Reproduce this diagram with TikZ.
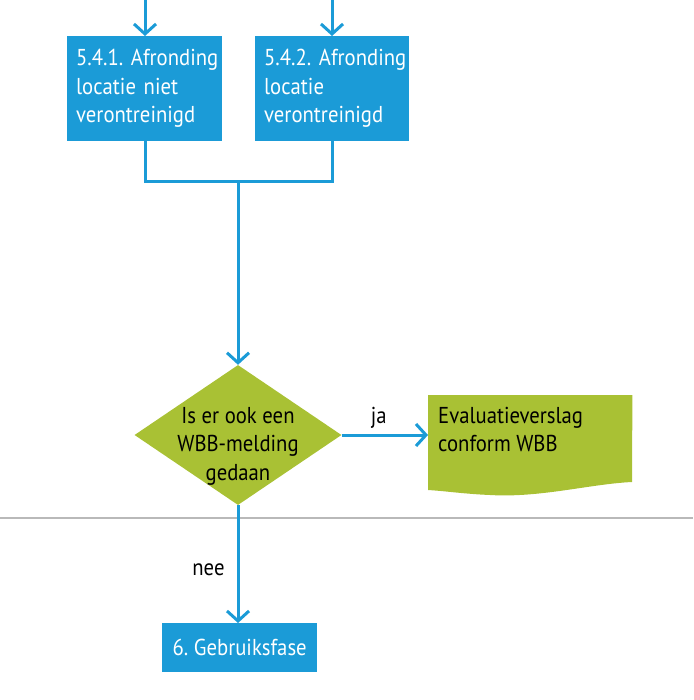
\documentclass[tikz,border=0pt]{standalone}
\usepackage{fontspec}
\setmainfont{PT Sans}[FakeStretch=0.9]
\usetikzlibrary{shapes.geometric,arrows.meta}
\definecolor{bl}{RGB}{27,155,215}
\definecolor{gr}{RGB}{169,193,52}
\definecolor{gl}{RGB}{185,185,185}
\frenchspacing
\hyphenpenalty=10000
\hbadness=10000
\hfuzz=50pt
\begin{document}
\begin{tikzpicture}[x=1pt,y=-1pt,
  conn/.style={draw=bl,line width=3pt,-{Straight Barb[length=10pt,width=22pt,line width=3pt]}},
  plain/.style={draw=bl,line width=3pt},
  bbox/.style={fill=bl,text=white,anchor=north west,inner xsep=9pt,inner ysep=0pt,align=left,
    font=\fontsize{23}{28.5}\selectfont},
  lbl/.style={font=\fontsize{23}{28.5}\selectfont,inner sep=0pt}]
\useasboundingbox (0,0) rectangle (693,700);
% top entry points
\coordinate (t1) at (145,0);
\coordinate (t2) at (332,0);
% boxes
\node[bbox,minimum width=155pt,minimum height=105pt,text width=137pt] (b1) at (67,36)
  {\mbox{5.4.1. Afronding}\\locatie niet\\verontreinigd};
\node[bbox,minimum width=154pt,minimum height=105pt,text width=136pt] (b2) at (255,36)
  {\mbox{5.4.2. Afronding}\\locatie\\verontreinigd};
\draw[conn] (t1) -- (b1.north -| t1);
\draw[conn] (t2) -- (b2.north -| t2);
% join
\coordinate (j1) at (145,182);
\coordinate (j2) at (332,182);
\coordinate (jm) at (238,182);
\draw[plain] (b1.south -| t1) -- (j1) -- (j2) -- (b2.south -| t2);
% diamond
\node[diamond,fill=gr,minimum width=207pt,minimum height=140pt,inner sep=0pt] (d) at (238,435) {};
\node[lbl,align=center,text=black] (dt) at (238,446) {Is er ook een\\WBB-melding\\gedaan};
\draw[conn] (jm) -- (d.north);
% gray rule
\coordinate (g1) at (0,518);
\coordinate (g2) at (693,518);
\draw[gl,line width=1.2pt] (g1) -- (g2);
% evaluation document
\node[anchor=north west,minimum width=204pt,minimum height=84pt,inner sep=0pt] (ev) at (428,395) {};
\fill[gr] (ev.north west) -- (ev.north east) -- (632,482)
  .. controls (590,484) and (540,498) .. (490,495)
  .. controls (465,494) and (445,491) .. (428,490) -- cycle;
\node[lbl,anchor=north west,align=left,text=black] (evt) at (438,407)
  {Evaluatieverslag\\conform WBB};
\draw[conn] (d.east) -- (d.east -| ev.west) node[lbl,pos=0.43,above=5pt,text=black] {ja};
% gebruiksfase
\node[fill=bl,text=white,anchor=north west,minimum width=155pt,minimum height=49pt,inner sep=0pt,
  font=\fontsize{23}{28.5}\selectfont] (b6) at (162,623) {6. Gebruiksfase};
\draw[conn] (d.south) -- (b6.north -| d.south) node[lbl,pos=0.55,left=12pt,text=black] {nee};
\end{tikzpicture}
\end{document}
